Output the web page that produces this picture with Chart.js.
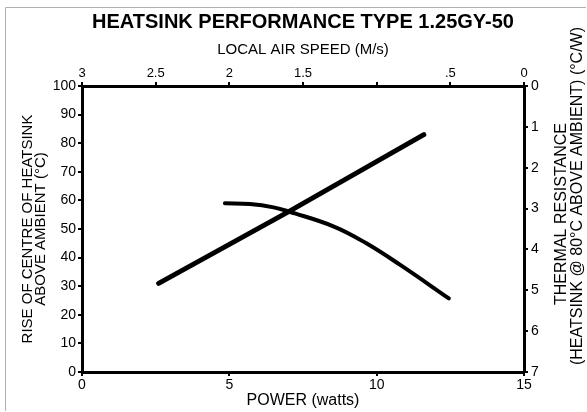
<!DOCTYPE html>
<html><head><meta charset="utf-8">
<script src="https://cdn.jsdelivr.net/npm/chart.js@4/dist/chart.umd.min.js"></script>
<style>html,body{margin:0;padding:0;background:#fff}#wrap{width:587px;height:412px;position:relative}</style>
</head><body><div id="wrap"><canvas id="c" width="587" height="412"></canvas></div>
<script>
// ---- data ----
const chartTitle = 'HEATSINK PERFORMANCE TYPE 1.25GY-50';
// straight line: temperature rise vs power (bottom / left axes)
const powerWatts = [2.6, 7.0, 11.6];
const riseDegC = [31, 56, 83];
// curve: thermal resistance vs local air speed (top / right axes)
const airSpeed = [2.03, 1.86, 1.70, 1.59, 1.29, 1.07, 0.84, 0.51];
const thermalRes = [2.87, 2.89, 2.97, 3.08, 3.44, 3.85, 4.38, 5.20];
// tick labels
const powerTicks = [0, 5, 10, 15];
const riseTicks = [0, 10, 20, 30, 40, 50, 60, 70, 80, 90, 100];
const speedTicks = [0, 0.5, 1, 1.5, 2, 2.5, 3];
const speedTickLabels = ['0', '.5', '', '1.5', '2', '2.5', '3'];
const resTicks = [0, 1, 2, 3, 4, 5, 6, 7];
// axis titles
const xTitle = 'POWER (watts)';
const x2Title = 'LOCAL AIR SPEED (M/s)';
const yTitle = ['RISE OF CENTRE OF HEATSINK', 'ABOVE AMBIENT (\u00B0C)'];
const y2Title = ['THERMAL RESISTANCE', '(HEATSINK @ 80\u00B0C ABOVE AMBIENT) (\u00B0C/W)'];

const FONT = '"Liberation Sans", Arial, sans-serif';
Chart.defaults.font.family = FONT;
Chart.defaults.color = '#000';

const tickGrid = {display: true, drawOnChartArea: false, drawTicks: true, tickLength: 4, color: '#000', lineWidth: 2};
const axisBorder = {display: true, width: 3, color: '#000'};

const frame = {
  id: 'frame',
  beforeDraw(chart) {
    const c = chart.ctx;
    c.save();
    c.strokeStyle = '#b0b0b0';
    c.lineWidth = 1;
    c.beginPath();
    c.moveTo(5.5, 411); c.lineTo(5.5, 7.5); c.lineTo(586, 7.5);
    c.stroke();
    c.restore();
  }
};

const rightTitle = {
  id: 'rightTitle',
  afterDraw(chart) {
    const c = chart.ctx, a = chart.chartArea;
    c.save();
    c.font = '16px ' + FONT;
    c.fillStyle = '#000';
    c.textAlign = 'center';
    c.textBaseline = 'middle';
    const pos = [[a.right + 38, 214], [a.right + 54, 196]];
    y2Title.forEach((t, i) => {
      c.save();
      c.translate(pos[i][0], pos[i][1]);
      c.rotate(-Math.PI / 2);
      c.fillText(t, 0, 0);
      c.restore();
    });
    c.restore();
  }
};

new Chart(document.getElementById('c'), {
  type: 'scatter',
  data: {
    datasets: [
      {
        label: 'Rise of centre of heatsink',
        data: powerWatts.map((p, i) => ({x: p, y: riseDegC[i]})),
        xAxisID: 'x', yAxisID: 'y',
        showLine: true, borderColor: '#000', backgroundColor: '#000',
        borderWidth: 5, pointRadius: 0, tension: 0, borderCapStyle: 'round'
      },
      {
        label: 'Thermal resistance',
        data: airSpeed.map((s, i) => ({x: s, y: thermalRes[i]})),
        xAxisID: 'x2', yAxisID: 'y2',
        showLine: true, borderColor: '#000', backgroundColor: '#000',
        borderWidth: 4, pointRadius: 0, tension: 0.4, borderCapStyle: 'round'
      }
    ]
  },
  options: {
    responsive: false, animation: false, devicePixelRatio: 1,
    layout: {padding: 0},
    plugins: {
      legend: {display: false},
      tooltip: {enabled: false},
      title: {display: true, text: chartTitle, color: '#000', fullSize: false,
        font: {size: 20, weight: 'bold', family: FONT},
        padding: {top: 10, bottom: 0}}
    },
    scales: {
      x: {
        type: 'linear', position: 'bottom', min: 0, max: 15,
        afterBuildTicks: s => { s.ticks = powerTicks.map(v => ({value: v})); },
        ticks: {font: {size: 14}, padding: 1, maxRotation: 0},
        grid: tickGrid, border: axisBorder,
        title: {display: true, text: xTitle, font: {size: 16}, padding: {top: 0, bottom: 2}},
        afterFit: s => { s.height = 40; }
      },
      x2: {
        type: 'linear', position: 'top', min: 0, max: 3, reverse: true,
        afterBuildTicks: s => { s.ticks = speedTicks.map(v => ({value: v})); },
        ticks: {font: {size: 13}, padding: 1, maxRotation: 0,
          callback: v => speedTickLabels[speedTicks.indexOf(v)]},
        grid: tickGrid, border: axisBorder,
        title: {display: true, text: x2Title, font: {size: 15}, padding: {top: 7, bottom: 0}},
        afterFit: s => { s.height = 52; }
      },
      y: {
        type: 'linear', position: 'left', min: 0, max: 100,
        afterBuildTicks: s => { s.ticks = riseTicks.map(v => ({value: v})); },
        ticks: {font: {size: 14}, padding: 2},
        grid: tickGrid, border: axisBorder,
        title: {display: true, text: yTitle, font: {size: 15, lineHeight: 0.9}, padding: {top: 21, bottom: 0}},
        afterFit: s => { s.width = 82; }
      },
      y2: {
        type: 'linear', position: 'right', min: 0, max: 7, reverse: true,
        afterBuildTicks: s => { s.ticks = resTicks.map(v => ({value: v})); },
        ticks: {font: {size: 14}, padding: 3},
        grid: tickGrid, border: axisBorder,
        title: {display: false},
        afterFit: s => { s.width = 63; }
      }
    }
  },
  plugins: [frame, rightTitle]
});
</script>
</body></html>
